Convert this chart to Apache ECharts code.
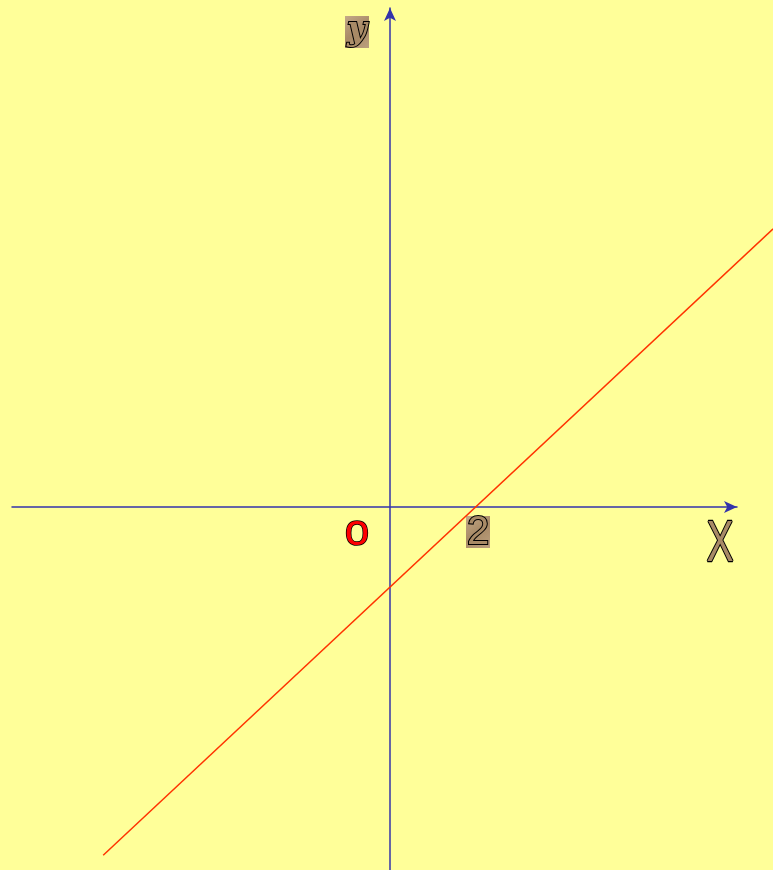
<!DOCTYPE html>
<html>
<head>
<meta charset="utf-8">
<script src="https://cdn.jsdelivr.net/npm/echarts@6/dist/echarts.min.js"></script>
<style>
html, body { margin: 0; padding: 0; background: #ffff99; }
#main { width: 773px; height: 870px; }
</style>
</head>
<body>
<div id="main"></div>
<script>
// axis ranges in units (1 unit ~ 43px), origin at (390, 507)
var axisXRange = [-8.791, 8.070];
var axisYRange = [-8.442, 11.605];
// the full-canvas grid that carries the red line
var fullXRange = [-9.070, 8.907];
var fullYRange = [-8.442, 11.791];

// the red line y = k(x - 2), read at its two ends
var lineX = [-6.67, 8.91];
var lineY = [-8.1, 6.47];

var chart = echarts.init(document.getElementById('main'));

var texture = new echarts.graphic.LinearGradient(0, 0, 1, 1, [
  { offset: 0, color: '#c4a988' },
  { offset: 0.5, color: '#a88a66' },
  { offset: 1, color: '#bca07e' }
]);

function hiddenAxis(range, idx) {
  return {
    type: 'value', gridIndex: idx, min: range[0], max: range[1], show: false
  };
}

function arrowAxis(range, idx) {
  return {
    type: 'value',
    gridIndex: idx,
    min: range[0],
    max: range[1],
    splitLine: { show: false },
    axisTick: { show: false },
    axisLabel: { show: false },
    axisLine: {
      onZero: true,
      symbol: ['none', 'arrow'],
      symbolSize: [9, 13],
      lineStyle: { color: '#3333aa', width: 1.5 }
    }
  };
}

var option = {
  backgroundColor: '#ffff99',
  animation: false,
  grid: [
    { left: 12, right: 36, top: 8, bottom: 0 },
    { left: 0, right: 0, top: 0, bottom: 0 }
  ],
  xAxis: [arrowAxis(axisXRange, 0), hiddenAxis(fullXRange, 1)],
  yAxis: [arrowAxis(axisYRange, 0), hiddenAxis(fullYRange, 1)],
  series: [{
    type: 'line',
    xAxisIndex: 1,
    yAxisIndex: 1,
    data: lineX.map(function (x, i) { return [x, lineY[i]]; }),
    showSymbol: false,
    lineStyle: { color: '#ff3300', width: 1.5 }
  }],
  graphic: [
    { type: 'rect', shape: { x: 345, y: 16, width: 24, height: 32 }, style: { fill: texture } },
    { type: 'text', x: 357, y: 31, style: {
        text: 'y', font: 'italic bold 34px "DejaVu Serif"', fill: '#a88a66',
        stroke: '#000', lineWidth: 2, align: 'center', verticalAlign: 'middle' } },
    { type: 'text', x: 357, y: 533, style: {
        text: 'o', font: '44px "Liberation Sans"', fill: '#ff0000',
        stroke: '#000', lineWidth: 1.5, align: 'center', verticalAlign: 'middle' } },
    { type: 'rect', shape: { x: 466, y: 516, width: 24, height: 32 }, style: { fill: texture } },
    { type: 'text', x: 478, y: 533, style: {
        text: '2', font: '40px "Liberation Sans"', fill: '#a88a66',
        stroke: '#000', lineWidth: 2, align: 'center', verticalAlign: 'middle' } },
    { type: 'text', x: 720, y: 545, scaleX: 0.7, style: {
        text: 'X', font: '58px "Liberation Sans"', fill: '#a88a66',
        stroke: '#000', lineWidth: 2.5, align: 'center', verticalAlign: 'middle' } }
  ]
};

chart.setOption(option);
</script>
</body>
</html>
